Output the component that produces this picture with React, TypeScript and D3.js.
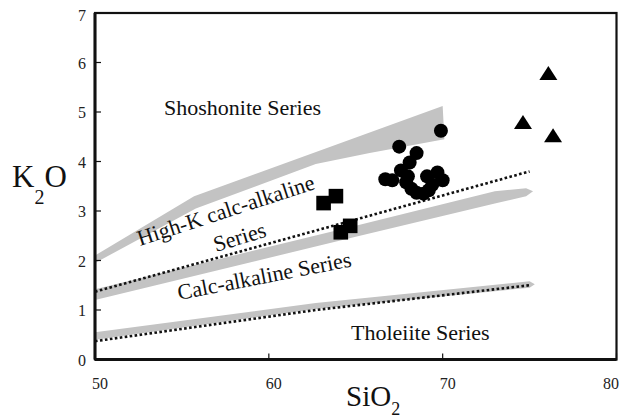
import * as d3 from "d3";

// K2O vs SiO2 diagram (series boundaries + samples)
const xDomain: [number, number] = [50, 80];
const yDomain: [number, number] = [0, 7];
const xTicks = [50, 60, 70, 80];
const yTicks = [0, 1, 2, 3, 4, 5, 6, 7];

// grey boundary bands, [SiO2, K2O] outline points
const shoshoniteBand: [number, number][] = [
	[50, 2.1], [55.7, 3.3], [70, 5.12], [70.1, 4.45], [65.8, 4.17], [62.7, 3.95], [55.8, 3.05], [50, 1.95],
];
const highKBand: [number, number][] = [
	[50, 1.42], [65, 2.7], [73, 3.4], [74.8, 3.46], [75.2, 3.4], [74.8, 3.3], [73, 3.15], [65, 2.48], [50, 1.2],
];
const tholeiiteBand: [number, number][] = [
	[50, 0.55], [62.7, 1.14], [75, 1.58], [75.3, 1.52], [75, 1.45], [62.7, 1.02], [50, 0.4],
];

// dotted boundary lines
const dottedUpper: [number, number][] = [[50, 1.37], [75, 3.8]];
const dottedLower: [number, number][] = [[50, 0.37], [62.7, 1.0], [75, 1.5]];

// samples
const circles: [number, number][] = [
	[69.9, 4.62], [67.5, 4.3], [68.5, 4.17], [68.1, 3.98], [67.6, 3.82], [66.7, 3.64],
	[67.1, 3.62], [67.9, 3.58], [68.2, 3.45], [68.5, 3.37], [69.1, 3.7], [69.7, 3.78],
	[70.0, 3.62], [69.2, 3.42], [68.9, 3.35], [69.4, 3.53], [68.0, 3.7],
];
const squares: [number, number][] = [[63.15, 3.16], [63.86, 3.3], [64.14, 2.57], [64.68, 2.7]];
const triangles: [number, number][] = [[76.08, 5.79], [74.62, 4.8], [76.35, 4.53]];

const font = "Liberation Serif, Times New Roman, serif";

export default function App() {
	const width = 619;
	const height = 418;
	const x = d3.scaleLinear().domain(xDomain).range([95, 616.5]);
	const y = d3.scaleLinear().domain(yDomain).range([359.5, 13]);

	const area = d3
		.line<[number, number]>()
		.x((d) => x(d[0]))
		.y((d) => y(d[1]));

	const tri = (cx: number, cy: number) =>
		`M${cx},${cy - 7}L${cx + 9},${cy + 7}L${cx - 9},${cy + 7}Z`;

	return (
		<svg
			width={width}
			height={height}
			style={{ position: "absolute", left: 0, top: 0, background: "#fff", fontFamily: font }}
		>
			<rect width={width} height={height} fill="#fff" />
			{/* bands */}
			<path d={area(shoshoniteBand) + "Z"} fill="#c3c3c3" />
			<path d={area(highKBand) + "Z"} fill="#c3c3c3" />
			<path d={area(tholeiiteBand) + "Z"} fill="#c3c3c3" />
			<path d={area(dottedUpper) || ""} fill="none" stroke="#111" strokeWidth={2.6} strokeDasharray="2.6 2.4" />
			<path d={area(dottedLower) || ""} fill="none" stroke="#111" strokeWidth={2.6} strokeDasharray="2.6 2.4" />

			{/* series labels */}
			<g fontSize={22} fill="#111">
				<text x={164} y={115}>Shoshonite Series</text>
				<text transform="translate(140,246) rotate(-18)">High-K calc-alkaline</text>
				<text transform="translate(216,252) rotate(-17)">Series</text>
				<text transform="translate(179,300) rotate(-11)">Calc-alkaline Series</text>
				<text x={351} y={340}>Tholeiite Series</text>
			</g>

			{/* samples */}
			{circles.map((d, i) => (
				<circle key={"c" + i} cx={x(d[0])} cy={y(d[1])} r={7} fill="#000" />
			))}
			{squares.map((d, i) => (
				<rect key={"s" + i} x={x(d[0]) - 7.3} y={y(d[1]) - 7.3} width={14.6} height={14.6} fill="#000" />
			))}
			{triangles.map((d, i) => (
				<path key={"t" + i} d={tri(x(d[0]), y(d[1]))} fill="#000" />
			))}

			{/* frame */}
			<rect x={x(50)} y={y(7)} width={x(80) - x(50)} height={y(0) - y(7)} fill="none" stroke="#111" strokeWidth={2.2} />
			<line x1={x(50)} x2={x(50)} y1={y(7)} y2={y(0)} stroke="#111" strokeWidth={3} />
			<line x1={x(50)} x2={x(80)} y1={y(0)} y2={y(0)} stroke="#111" strokeWidth={3} />

			{/* ticks */}
			{yTicks.map((t) => (
				<g key={"y" + t}>
					<line x1={x(50)} x2={x(50) + 6} y1={y(t)} y2={y(t)} stroke="#111" strokeWidth={1.2} />
					<text x={86} y={y(t) + (t === 7 ? 8 : 6)} textAnchor="end" fontSize={16} fill="#222">{t}</text>
				</g>
			))}
			{xTicks.map((t) => (
				<g key={"x" + t}>
					<line x1={x(t)} x2={x(t)} y1={y(0)} y2={y(0) - 6} stroke="#111" strokeWidth={1.2} />
					<text x={Math.min(x(t) + 5, 611)} y={389} textAnchor="middle" fontSize={16} fill="#222">{t}</text>
				</g>
			))}

			{/* axis titles */}
			<text x={12} y={187} fontSize={31} fill="#111">
				K<tspan fontSize={20} dy={17}>2</tspan><tspan dy={-17}>O</tspan>
			</text>
			<text x={346} y={406} fontSize={29} fill="#111">
				SiO<tspan fontSize={18} dy={9}>2</tspan>
			</text>
		</svg>
	);
}
